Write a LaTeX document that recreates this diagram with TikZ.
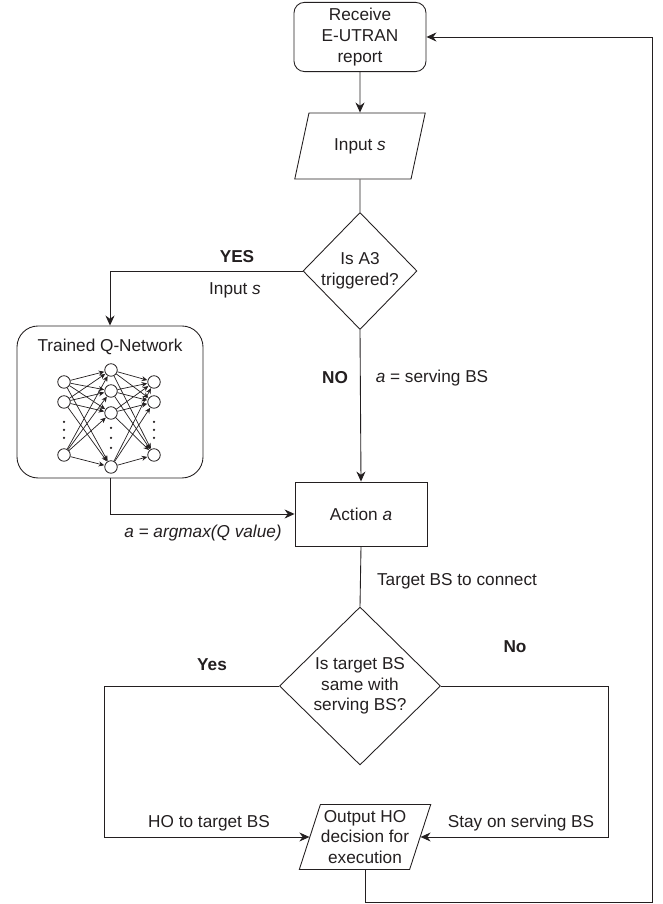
\documentclass[tikz,border=0pt]{standalone}
\usepackage{fontspec}
\setmainfont{Liberation Sans}
\usetikzlibrary{arrows.meta,positioning,shapes.geometric,calc}
\definecolor{flowline}{RGB}{35,31,32}

\tikzset{
  flowtxt/.style={font=\fontsize{9.8}{11.8}\selectfont, text=flowline},
  flow/.style={flowtxt, draw=flowline, line width=0.5pt, align=center},
  procbox/.style={flow, minimum width=2.64cm, minimum height=1.28cm},
  startbox/.style={procbox, rounded corners=6pt},
  iobox/.style={flow, trapezium, trapezium left angle=72, trapezium right angle=108, trapezium stretches=true, minimum width=2.62cm, minimum height=1.32cm},
  decision/.style={flow, diamond, inner sep=0pt, shape aspect=1},
  neuron/.style={circle, draw=flowline, line width=0.45pt, minimum size=0.25cm, inner sep=0pt},
  conn/.style={draw=flowline, line width=0.5pt},
  arr/.style={conn, -{Stealth[length=2mm,width=1.8mm]}},
  nnarr/.style={draw=flowline, line width=0.4pt, -{Stealth[length=1.1mm,width=1mm]}, shorten >=0.2pt},
}

\begin{document}
\begin{tikzpicture}
  \useasboundingbox (0,0) rectangle (13.26,18.08);

  %% Main flow
  \node[startbox] (recv) at (7.2,17.34) {Receive\\E-UTRAN\\report};
  \node[iobox] (inp) at (7.2,15.16) {Input \textit{s}};
  \node[decision, minimum width=2.28cm, minimum height=2.34cm] (a3) at (7.2,12.66) {Is A3\\triggered?};
  \node[procbox] (act) at (7.22,7.8) {Action \textit{a}};
  \node[decision, minimum width=3.22cm, minimum height=3.16cm] (same) at (7.2,4.36) {Is target BS\\same with\\serving BS?};
  \node[flow, trapezium, trapezium left angle=70, trapezium right angle=110, trapezium stretches=true, minimum width=2.64cm, minimum height=1.3cm, inner xsep=0pt, inner ysep=1pt] (out) at (7.3,1.34) {Output HO\\decision for\\execution};

  %% Q-network box
  \node[flow, rounded corners=12pt, minimum width=3.72cm, minimum height=3.04cm] (qnet) at (2.2,10.04) {};
  \node[flowtxt] (qtitle) at (2.2,11.14) {Trained Q-Network};

  \node[neuron] (l1) at (1.28,10.44) {};
  \node[neuron] (l2) at (1.28,10.04) {};
  \node[neuron] (l3) at (1.28,8.98) {};
  \node[neuron] (m1) at (2.22,10.68) {};
  \node[neuron] (m2) at (2.22,10.26) {};
  \node[neuron] (m3) at (2.22,9.82) {};
  \node[neuron] (m4) at (2.22,8.74) {};
  \node[neuron] (r1) at (3.08,10.44) {};
  \node[neuron] (r2) at (3.08,10.04) {};
  \node[neuron] (r3) at (3.08,8.98) {};

  \foreach \i in {1,2,3}
    \foreach \j in {1,2,3,4} {
      \draw[nnarr] (l\i) -- (m\j);
      \draw[nnarr] (m\j) -- (r\i);
    }

  \foreach \y in {9.64,9.48,9.32} {
    \fill[flowline] (1.28,\y) circle (0.025);
    \fill[flowline] (3.08,\y) circle (0.025);
  }
  \foreach \y in {9.52,9.32,9.12}
    \fill[flowline] (2.22,\y) circle (0.025);

  %% Corners of the side branches
  \coordinate (yesleft) at (2.08,4.36);
  \coordinate (noright) at (12.16,4.36);
  \coordinate (loopbot) at (13.04,0.04);

  %% Connectors
  \draw[arr] (recv) -- (inp);
  \draw[conn] (inp) -- (a3);
  \draw[arr] (a3.west) -| (qnet.north);
  \draw[arr] (a3.south) -- (act.north);
  \draw[arr] (qnet.south) |- (act.west);
  \draw[conn] (act.south) -- (same.north);
  \draw[arr] (same.west) -- (yesleft) |- (out.west);
  \draw[arr] (same.east) -- (noright) |- (out.east);
  \draw[arr] (out.center |- out.south) |- (loopbot) |- (recv.east);

  %% Connector labels
  \node[flowtxt, font=\fontsize{9.8}{11.8}\selectfont\bfseries] (yesA) at (4.74,12.94) {YES};
  \node[flowtxt] (inpA) at (4.7,12.28) {Input \textit{s}};
  \node[flowtxt, font=\fontsize{9.8}{11.8}\selectfont\bfseries] (noA) at (6.7,10.52) {NO};
  \node[flowtxt] (servA) at (8.64,10.52) {\textit{a} = serving BS};
  \node[flowtxt] (argA) at (4.06,7.42) {\textit{a = argmax(Q value)}};
  \node[flowtxt] (tgtA) at (9.14,6.46) {Target BS to connect};
  \node[flowtxt, font=\fontsize{9.8}{11.8}\selectfont\bfseries] (yesB) at (4.24,4.78) {Yes};
  \node[flowtxt, font=\fontsize{9.8}{11.8}\selectfont\bfseries] (noB) at (10.3,5.14) {No};
  \node[flowtxt] (hoB) at (4.18,1.62) {HO to target BS};
  \node[flowtxt] (stayB) at (10.42,1.62) {Stay on serving BS};
\end{tikzpicture}
\end{document}
